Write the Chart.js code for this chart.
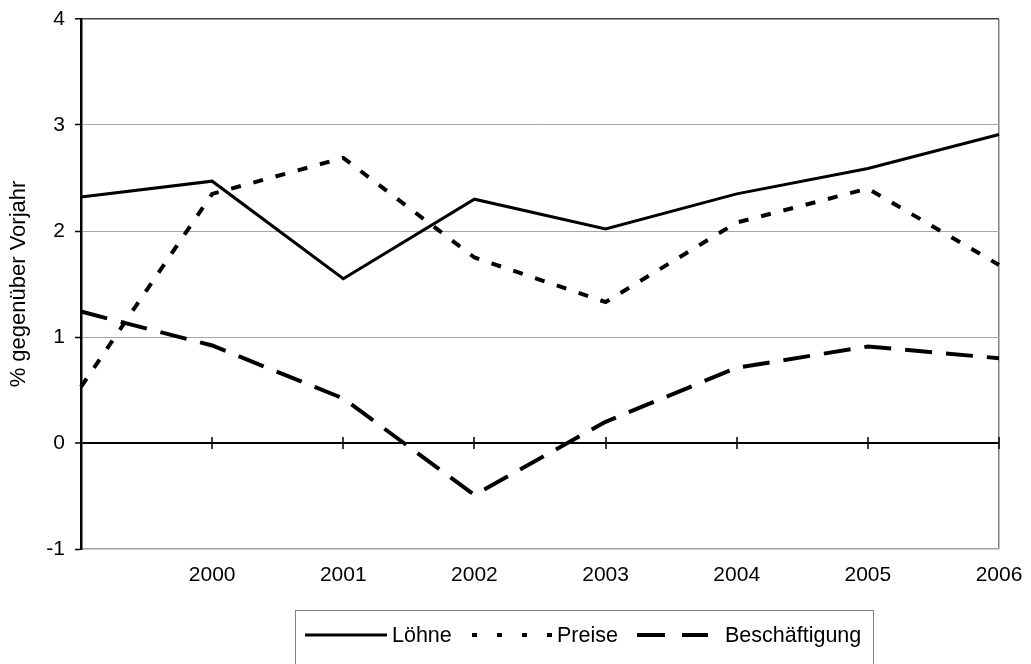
<!DOCTYPE html>
<html>
<head>
<meta charset="utf-8">
<script src="https://cdn.jsdelivr.net/npm/chart.js@4/dist/chart.umd.min.js"></script>
<style>
  html, body { margin: 0; padding: 0; background: #ffffff; }
  #wrap { width: 1031px; height: 664px; }
</style>
</head>
<body>
<div id="wrap"><canvas id="c" width="1031" height="664"></canvas></div>
<script>
// Jahre (erstes Jahr ohne Beschriftung am linken Rand)
const categories = ['1999', '2000', '2001', '2002', '2003', '2004', '2005', '2006'];
const xTickLabels = ['', '2000', '2001', '2002', '2003', '2004', '2005', '2006'];

// Veränderung in % gegenüber Vorjahr
const loehne = [2.32, 2.47, 1.55, 2.30, 2.02, 2.35, 2.59, 2.91];
const preise = [0.53, 2.35, 2.69, 1.75, 1.33, 2.08, 2.40, 1.68];
const beschaeftigung = [1.24, 0.92, 0.42, -0.49, 0.20, 0.71, 0.91, 0.80];

const seriesNames = ['Löhne', 'Preise', 'Beschäftigung'];
const yTitle = '% gegenüber Vorjahr';

const FONT = '"Liberation Sans", Arial, Helvetica, sans-serif';

// Tick-Striche auf der Nulllinie (kreuzend)
const zeroAxisTicks = {
  id: 'zeroAxisTicks',
  beforeDatasetsDraw(chart) {
    const { ctx, scales: { x, y } } = chart;
    const y0 = y.getPixelForValue(0);
    ctx.save();
    ctx.strokeStyle = '#000000';
    ctx.lineWidth = 1.5;
    ctx.beginPath();
    categories.forEach((c, i) => {
      if (i === 0) return;
      const px = Math.round(x.getPixelForValue(i));
      ctx.moveTo(px, y0 - 6);
      ctx.lineTo(px, y0 + 6);
    });
    ctx.stroke();
    ctx.restore();
  }
};

// Legende im Rahmen unter dem Diagramm
const boxedLegend = {
  id: 'boxedLegend',
  afterDraw(chart) {
    const { ctx } = chart;
    const ds = chart.data.datasets;
    ctx.save();
    ctx.strokeStyle = '#808080';
    ctx.lineWidth = 1;
    ctx.strokeRect(295.5, 610.5, 578, 60);

    const items = [
      { x0: 305, x1: 387, tx: 392, dash: [] },
      { x0: 472, x1: 553, tx: 557, dash: [5, 20] },
      { x0: 637, x1: 708, tx: 725, dash: [28, 17] }
    ];
    const ly = 635;
    items.forEach((it, i) => {
      ctx.beginPath();
      ctx.setLineDash(it.dash);
      ctx.lineCap = 'butt';
      ctx.strokeStyle = ds[i].borderColor;
      ctx.lineWidth = ds[i].borderWidth;
      ctx.moveTo(it.x0, ly);
      ctx.lineTo(it.x1, ly);
      ctx.stroke();
      ctx.setLineDash([]);
      ctx.fillStyle = '#000000';
      ctx.font = '21.5px ' + FONT;
      ctx.textBaseline = 'middle';
      ctx.textAlign = 'left';
      ctx.fillText(ds[i].label, it.tx, ly + 1);
    });
    ctx.restore();
  }
};

new Chart(document.getElementById('c'), {
  type: 'line',
  data: {
    labels: categories,
    datasets: [
      {
        label: seriesNames[0],
        data: loehne,
        borderColor: '#000000',
        borderWidth: 3,
        borderDash: [],
        pointRadius: 0,
        tension: 0,
        fill: false
      },
      {
        label: seriesNames[1],
        data: preise,
        borderColor: '#000000',
        borderWidth: 4,
        borderDash: [10, 13],
        pointRadius: 0,
        tension: 0,
        fill: false
      },
      {
        label: seriesNames[2],
        data: beschaeftigung,
        borderColor: '#000000',
        borderWidth: 4,
        borderDash: [27, 14],
        pointRadius: 0,
        tension: 0,
        fill: false
      }
    ]
  },
  options: {
    responsive: false,
    animation: false,
    devicePixelRatio: 1,
    layout: { padding: { left: 0, right: 32, top: 19, bottom: 0 } },
    plugins: {
      legend: { display: false },
      tooltip: { enabled: false }
    },
    scales: {
      x: {
        type: 'category',
        offset: false,
        afterFit(scale) {
          scale.height = 115;
          scale.paddingLeft = 0;
          scale.paddingRight = 0;
        },
        grid: {
          drawTicks: false,
          color: (c) => (c.index === categories.length - 1 ? '#808080' : 'rgba(0,0,0,0)'),
          lineWidth: 1.5
        },
        border: { display: true, color: '#a0a0a0', width: 1.5 },
        ticks: {
          color: '#000000',
          font: { family: FONT, size: 21 },
          padding: 14,
          maxRotation: 0,
          autoSkip: false,
          callback: (v, i) => xTickLabels[i]
        }
      },
      y: {
        min: -1,
        max: 4,
        afterFit(scale) {
          scale.width = 81;
          scale.paddingTop = 0;
          scale.paddingBottom = 0;
        },
        grid: {
          drawTicks: true,
          tickLength: 6,
          tickColor: '#000000',
          tickWidth: 1.5,
          color: (c) => {
            const v = c.tick.value;
            if (v === 0) return '#000000';
            if (v === 4) return '#404040';
            if (v === -1) return 'rgba(0,0,0,0)';
            return '#a6a6a6';
          },
          lineWidth: (c) => (c.tick.value === 0 ? 2 : (c.tick.value === 4 ? 1.5 : 1))
        },
        border: { display: true, color: '#000000', width: 2.5 },
        ticks: {
          stepSize: 1,
          color: '#000000',
          font: { family: FONT, size: 21 },
          padding: 10
        },
        title: {
          display: true,
          text: yTitle,
          color: '#000000',
          font: { family: FONT, size: 22 },
          padding: { top: 6, bottom: 0 }
        }
      }
    }
  },
  plugins: [zeroAxisTicks, boxedLegend]
});
</script>
</body>
</html>
